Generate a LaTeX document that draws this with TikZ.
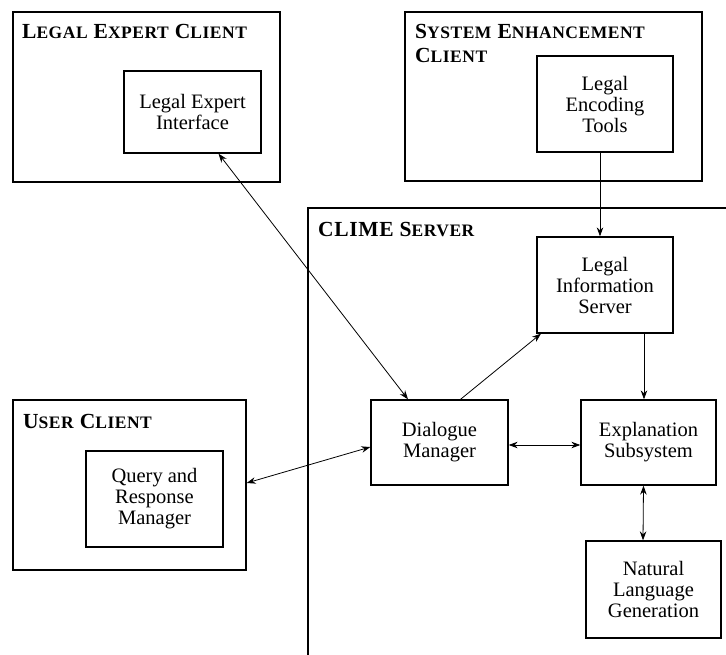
\documentclass[tikz,border=0pt]{standalone}
\usepackage{fontspec}
\setmainfont{Liberation Serif}
\newfontfamily\titlefont[LetterSpace=3]{Liberation Serif}
\usetikzlibrary{arrows.meta}
\newcommand{\smc}[2]{#1{\fontsize{17.5}{17.5}\selectfont #2}}
\tikzstyle{client} = [rectangle, draw = black, line width=1.3pt, inner sep=0pt]
\tikzstyle{module} = [rectangle, draw = black, line width=1.3pt, inner sep=0pt, text centered, align=center, font=\fontsize{20.5}{21}\selectfont]
\tikzstyle{title} = [anchor=base west, inner sep=0pt, font=\titlefont\bfseries\fontsize{21.5}{24}\selectfont]
\tikzstyle{arrow} = [->,>={Stealth[length=9pt,width=6.5pt]}, line width=0.8pt]
\tikzstyle{darrow} = [<->,>={Stealth[length=9pt,width=6.5pt]}, line width=0.8pt]

\begin{document}
\begin{tikzpicture}[x=1pt, y=-1pt]
	\useasboundingbox (0,0) rectangle (726,655);
	\clip (0,0) rectangle (726,655);
	\node (lec) [client, minimum width=267pt, minimum height=170pt] at (146.5,97) {};
	\node (sec) [client, minimum width=297pt, minimum height=169pt] at (553.5,96.5) {};
	\node (server) [client, minimum width=437pt, minimum height=467pt] at (526.5,441.5) {};
	\node (uc) [client, minimum width=233pt, minimum height=170pt] at (129.5,485) {};
	
	\node (lectitle) [title] at (22,39) {\smc{L}{EGAL} \smc{E}{XPERT} \smc{C}{LIENT}};
	\node (sectitle) [title] at (415,39) {\smc{S}{YSTEM} \smc{E}{NHANCEMENT}};
	\node (sectitleb) [title] at (415,63) {\smc{C}{LIENT}};
	\node (servertitle) [title] at (318,237) {CLIME \smc{S}{ERVER}};
	\node (uctitle) [title] at (23,428) {\smc{U}{SER} \smc{C}{LIENT}};
	
	\node (lei) [module, minimum width=137pt, minimum height=82pt] at (192.5,112) {Legal Expert\\Interface};
	\node (let) [module, minimum width=136pt, minimum height=96pt] at (605,104) {Legal\\Encoding\\Tools};
	\node (lis) [module, minimum width=136pt, minimum height=96pt] at (605,285) {Legal\\Information\\Server};
	\node (dm) [module, minimum width=137pt, minimum height=85pt] at (439.5,442.5) {Dialogue\\Manager};
	\node (es) [module, minimum width=135pt, minimum height=85pt] at (648.5,442.5) {Explanation\\Subsystem};
	\node (nlg) [module, minimum width=135pt, minimum height=97pt] at (653.5,589.5) {Natural\\Language\\Generation};
	\node (qrm) [module, minimum width=137pt, minimum height=96pt] at (154.5,499) {Query and\\Response\\Manager};
	
	\draw [darrow] ([xshift=26pt]lei.south) -- ([xshift=-31.5pt]dm.north);
	\draw [arrow] ([xshift=21pt]dm.north) -- ([xshift=-64pt]lis.south);
	\draw [arrow] ([xshift=-5pt]let.south) -- ([xshift=-5pt]lis.north);
	\draw [arrow] ([xshift=39pt]lis.south) -- ([xshift=-4.5pt]es.north);
	\draw [darrow] ([yshift=-2.5pt]dm.east) -- ([yshift=-2.5pt]es.west);
	\draw [darrow] ([xshift=-5pt]es.south) -- ([xshift=-10.5pt]nlg.north);
	\draw [darrow] ([yshift=2pt]uc.east) -- ([yshift=-4.5pt]dm.west);
	%	\draw [arrow] (qrm) -- (uc);
\end{tikzpicture}
\end{document}
